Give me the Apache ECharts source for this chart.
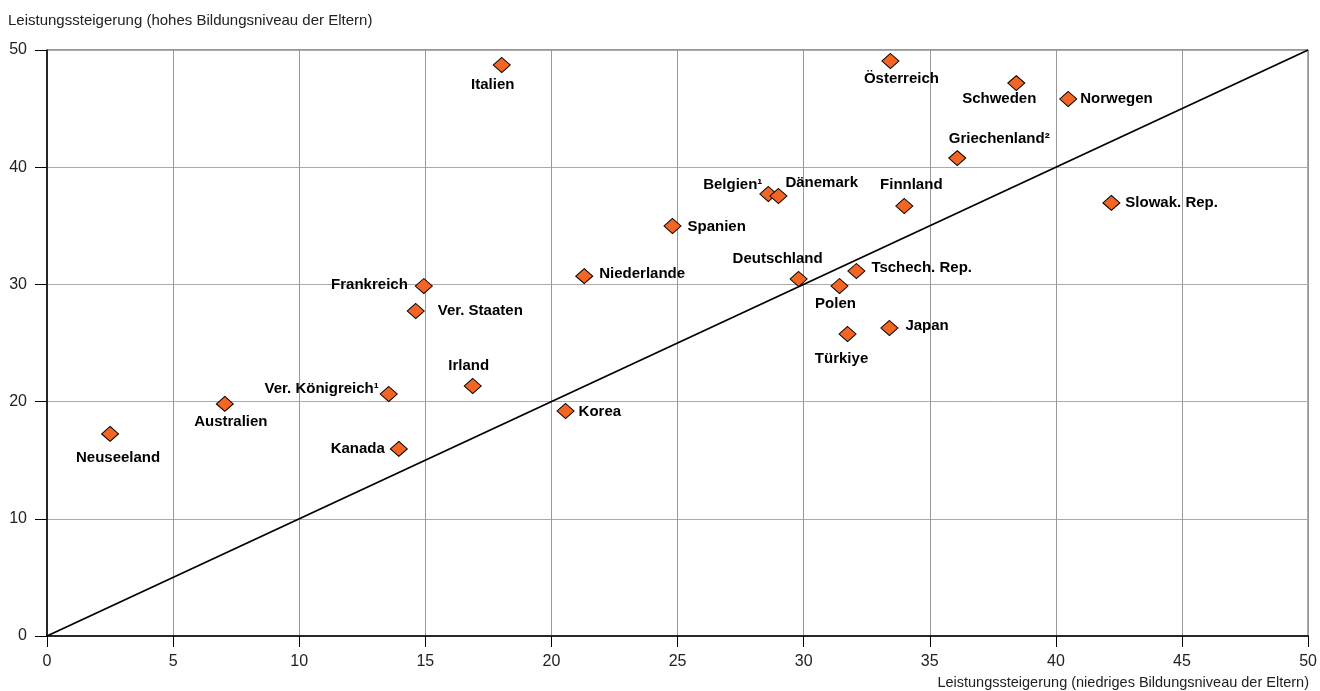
<!DOCTYPE html>
<html>
<head>
<meta charset="utf-8">
<script src="https://cdn.jsdelivr.net/npm/echarts@6/dist/echarts.min.js"></script>
<style>html,body{margin:0;padding:0;background:#fff}#c{width:1320px;height:691px}</style>
</head>
<body>
<div id="c"></div>
<script>
const countries = ['Neuseeland','Australien','Kanada','Ver. Königreich¹','Irland','Ver. Staaten','Frankreich','Italien','Korea','Niederlande','Spanien','Belgien¹','Dänemark','Deutschland','Polen','Tschech. Rep.','Türkiye','Japan','Österreich','Finnland','Griechenland²','Schweden','Norwegen','Slowak. Rep.'];
const lowEdu  = [2.5, 7.05, 13.95, 13.55, 16.88, 14.62, 14.94, 18.03, 20.56, 21.3, 24.8, 28.6, 29.0, 29.8, 31.42, 32.09, 31.74, 33.4, 33.44, 33.99, 36.09, 38.43, 40.49, 42.2];
const highEdu = [17.24, 19.8, 15.96, 20.65, 21.33, 27.73, 29.86, 48.72, 19.2, 30.7, 34.98, 37.71, 37.54, 30.46, 29.86, 31.14, 25.77, 26.28, 49.06, 36.69, 40.78, 47.18, 45.82, 36.95];
const xTicks = [0,5,10,15,20,25,30,35,40,45,50];
const yTicks = [0,10,20,30,40,50];
const xTitle = 'Leistungssteigerung (niedriges Bildungsniveau der Eltern)';
const yTitle = 'Leistungssteigerung (hohes Bildungsniveau der Eltern)';

// label placement: [align, dx, dy] relative to marker centre
const labelLayout = {
  'Neuseeland':['center',8,24], 'Australien':['center',6,18], 'Kanada':['right',-14,0],
  'Ver. Königreich¹':['right',-10,-5], 'Irland':['center',-4,-20], 'Ver. Staaten':['left',22,0],
  'Frankreich':['right',-16,-1], 'Italien':['center',-9,20], 'Korea':['left',13,1],
  'Niederlande':['left',15,-2], 'Spanien':['left',15,1], 'Belgien¹':['right',-6,-9],
  'Dänemark':['left',7,-13], 'Deutschland':['center',-21,-20], 'Polen':['center',-4,18],
  'Tschech. Rep.':['left',15,-3], 'Türkiye':['center',-6,25], 'Japan':['left',16,-2],
  'Österreich':['center',11,18], 'Finnland':['center',7,-21], 'Griechenland²':['center',42,-19],
  'Schweden':['center',-17,16], 'Norwegen':['left',12,0], 'Slowak. Rep.':['left',14,0]
};

const pts = countries.map((n,i)=>{
  const l = labelLayout[n];
  return {
    name:n, value:[lowEdu[i], highEdu[i]],
    label:{show:true, position:'inside', align:l[0], verticalAlign:'middle', offset:[l[1], l[2]]}
  };
});

const chart = echarts.init(document.getElementById('c'));
const axisFont = {fontFamily:'Liberation Sans, Arial, sans-serif', fontSize:16, color:'#222'};
chart.setOption({
  animation:false,
  grid:{left:47, right:11, top:50, bottom:55, show:true, borderColor:'#333', borderWidth:1},
  xAxis:{type:'value', min:0, max:50, interval:5,
    axisLine:{lineStyle:{color:'#000', width:1.5}},
    axisTick:{show:true, length:11, inside:false, lineStyle:{color:'#000'}},
    axisLabel:Object.assign({margin:18, formatter:v=>xTicks.includes(v)?String(v):''}, axisFont),
    splitLine:{show:true, lineStyle:{color:'#999', width:1}}},
  yAxis:{type:'value', min:0, max:50, interval:10,
    axisLine:{show:true, lineStyle:{color:'#000', width:1.5}},
    axisTick:{show:true, length:12, inside:false, lineStyle:{color:'#000'}},
    axisLabel:Object.assign({margin:20, formatter:v=>yTicks.includes(v)?String(v):''}, axisFont),
    splitLine:{show:true, lineStyle:{color:'#aaa', width:1}}},
  graphic:[
    {type:'text', left:8, top:13, style:{text:yTitle, font:'15px "Liberation Sans", Arial, sans-serif', fill:'#222'}},
    {type:'text', right:11, top:675, style:{text:xTitle, font:'14.5px "Liberation Sans", Arial, sans-serif', fill:'#222'}}
  ],
  series:[
    {type:'line', data:[[0,0],[50,50]], symbol:'none', silent:true,
     lineStyle:{color:'#000', width:1.8}, z:1},
    {type:'scatter', data:pts, symbol:'diamond', symbolSize:[17,15],
     itemStyle:{color:'#F26522', borderColor:'#000', borderWidth:1, opacity:1}, z:3,
     label:{formatter:p=>p.name, color:'#000', fontWeight:'bold', fontSize:15, textBorderWidth:0,
            fontFamily:'Liberation Sans, Arial, sans-serif'}}
  ]
});
</script>
</body>
</html>
